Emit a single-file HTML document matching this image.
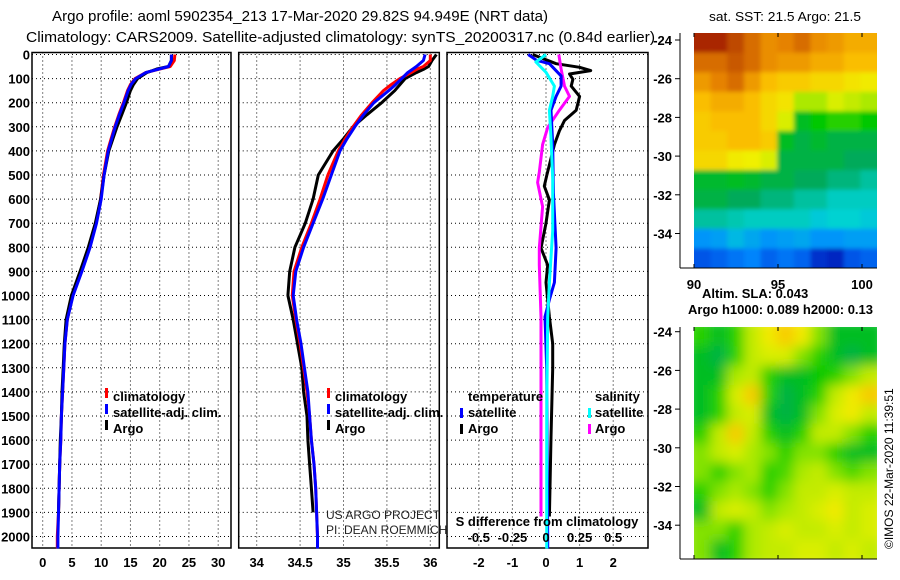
<!DOCTYPE html>
<html><head><meta charset="utf-8"><title>Argo profile</title>
<style>
html,body{margin:0;padding:0;background:#fff;}
svg{display:block;font-family:"Liberation Sans",sans-serif;}
.b{font-weight:bold;font-size:13px;}
</style></head>
<body>
<svg id="chart" width="900" height="580" viewBox="0 0 900 580" xmlns="http://www.w3.org/2000/svg">
<defs>
<filter id="blurS" x="-5%" y="-5%" width="110%" height="110%"><feGaussianBlur stdDeviation="2"/></filter>
<filter id="blurL" x="-5%" y="-5%" width="110%" height="110%"><feGaussianBlur stdDeviation="6"/></filter>
<clipPath id="clipSST"><rect x="694" y="33" width="183" height="235"/></clipPath>
<clipPath id="clipSLA"><rect x="694" y="327" width="183" height="232"/></clipPath>
</defs>
<rect x="0" y="0" width="900" height="580" fill="#fff"/>
<text x="52" y="21" font-size="15" textLength="496" lengthAdjust="spacingAndGlyphs">Argo profile: aoml 5902354_213 17-Mar-2020 29.82S 94.949E (NRT data)</text>
<text x="26" y="42" font-size="15" textLength="629" lengthAdjust="spacingAndGlyphs">Climatology: CARS2009. Satellite-adjusted climatology: synTS_20200317.nc (0.84d earlier)</text>
<text x="709" y="21" font-size="13" textLength="152" lengthAdjust="spacingAndGlyphs">sat. SST: 21.5 Argo: 21.5</text>
<g id="g"></g>
</svg>
<script>
// ---- data ----
const depthTicks = [0,100,200,300,400,500,600,700,800,900,1000,1100,1200,1300,1400,1500,1600,1700,1800,1900,2000];
const tempTicks = [0,5,10,15,20,25,30];
const salTicks = [34,34.5,35,35.5,36];
const diffTicks = [-2,-1,0,1,2];
const sdiffTickLabels = ["-0.5","-0.25","0","0.25","0.5"];
const sdiffTickVals = [-0.5,-0.25,0,0.25,0.5];

const tDepth = [0,25,50,60,75,100,125,150,200,250,300,350,400,500,600,700,800,900,1000,1100,1200,1300,1400,1500,1600,1700,1800,1900];
const tempArgo = [22.0,22.0,21.5,19.5,17.8,16.2,15.5,15.0,14.3,13.5,12.7,12.0,11.3,10.5,9.9,9.0,7.8,6.4,4.9,4.0,3.7,3.5,3.3,3.2,3.0,2.9,2.8,2.7];
const cDepth = [0,25,50,60,75,100,125,150,200,250,300,350,400,500,600,700,800,900,1000,1100,1200,1300,1400,1500,1600,1700,1800,1900,2000,2050];
const tempClim = [22.6,22.5,21.8,20.0,17.6,15.8,15.0,14.5,13.8,13.0,12.3,11.7,11.1,10.4,9.9,9.1,8.0,6.6,5.1,4.2,3.8,3.6,3.4,3.2,3.1,2.9,2.8,2.7,2.5,2.5];
const tempSat = [22.0,22.0,21.5,19.9,17.6,15.9,15.1,14.6,13.9,13.1,12.4,11.8,11.2,10.5,10.0,9.2,8.1,6.7,5.2,4.2,3.8,3.6,3.4,3.2,3.1,2.9,2.8,2.7,2.6,2.6];

const salArgo = [36.07,36.02,35.98,35.93,35.84,35.71,35.65,35.59,35.44,35.27,35.11,35.0,34.88,34.71,34.65,34.56,34.44,34.38,34.36,34.42,34.47,34.52,34.54,34.58,34.59,34.61,34.63,34.65];
const salClim = [36.0,36.0,35.92,35.85,35.78,35.65,35.55,35.46,35.33,35.21,35.11,35.02,34.94,34.82,34.73,34.63,34.52,34.43,34.41,34.45,34.5,34.54,34.58,34.61,34.63,34.66,34.68,34.69,34.7,34.7];
const salSat = [35.94,35.92,35.84,35.8,35.74,35.67,35.6,35.52,35.35,35.23,35.13,35.04,34.96,34.86,34.76,34.65,34.54,34.45,34.42,34.46,34.51,34.55,34.59,34.61,34.63,34.66,34.68,34.69,34.7,34.7];

const dTA = [0,38,53,67,81,103,131,174,231,274,317,374,431,503,546,603,700,803,874,946,1089,1200,1303,1589,1917];
const diffTempArgo = [-0.4,0.3,1.0,1.33,0.7,0.8,0.75,1.0,0.9,0.55,0.4,0.25,0.15,0.02,-0.05,0.1,0.0,-0.15,0.05,0.0,0.1,0.2,0.2,0.15,0.1];
const dTS = [0,24,38,89,131,174,231,374,574,803,946,1017,1089,1300,2000,2050];
const diffTempSat = [-0.53,-0.28,0.1,0.45,0.45,0.3,0.15,0.2,0.22,0.3,0.25,0.1,-0.03,0.02,0.05,0.05];
const dSA = [0,60,131,174,231,303,374,489,531,631,803,874,1089,1500,1917];
const diffSalArgo = [0.38,0.45,0.55,0.7,0.4,0.05,-0.1,-0.2,-0.25,-0.1,-0.2,-0.2,-0.15,-0.15,-0.15];
const dSS = [0,31,74,131,174,231,346,517,731,946,1089,1500,2050];
const diffSalSat = [0,-0.3,0,0.25,0.2,0.1,0.15,0.2,0.2,0.1,0.05,0.02,0.02];

const sstGrid = [
[0.95,0.95,0.9,0.85,0.8,0.82,0.85,0.8,0.78,0.75,0.75],
[0.85,0.85,0.88,0.85,0.8,0.78,0.78,0.75,0.75,0.72,0.72],
[0.78,0.82,0.85,0.78,0.72,0.7,0.7,0.68,0.68,0.66,0.65],
[0.72,0.75,0.75,0.72,0.68,0.66,0.58,0.58,0.62,0.6,0.58],
[0.7,0.72,0.72,0.72,0.68,0.62,0.45,0.48,0.5,0.5,0.48],
[0.7,0.7,0.72,0.72,0.7,0.45,0.42,0.44,0.42,0.42,0.42],
[0.68,0.68,0.65,0.64,0.62,0.42,0.42,0.42,0.42,0.4,0.4],
[0.44,0.44,0.45,0.44,0.42,0.42,0.4,0.4,0.38,0.38,0.36],
[0.42,0.42,0.4,0.4,0.38,0.38,0.36,0.36,0.34,0.34,0.34],
[0.36,0.36,0.35,0.34,0.34,0.34,0.34,0.32,0.33,0.33,0.32],
[0.26,0.27,0.3,0.28,0.26,0.27,0.28,0.26,0.26,0.27,0.27],
[0.18,0.2,0.22,0.24,0.2,0.22,0.2,0.12,0.1,0.18,0.2]];
const slaGrid = [
[0.5,0.45,0.5,0.6,0.65,0.7,0.65,0.55,0.45,0.45,0.45],
[0.45,0.42,0.5,0.6,0.62,0.62,0.55,0.5,0.45,0.42,0.45],
[0.45,0.45,0.58,0.6,0.5,0.45,0.45,0.48,0.5,0.55,0.6],
[0.45,0.5,0.62,0.7,0.5,0.42,0.45,0.5,0.6,0.65,0.7],
[0.45,0.5,0.6,0.62,0.45,0.42,0.45,0.55,0.62,0.65,0.6],
[0.5,0.6,0.7,0.6,0.5,0.45,0.5,0.6,0.6,0.55,0.5],
[0.55,0.6,0.62,0.58,0.55,0.5,0.55,0.55,0.5,0.45,0.45],
[0.55,0.5,0.55,0.58,0.5,0.52,0.58,0.6,0.55,0.52,0.55],
[0.5,0.55,0.58,0.55,0.5,0.55,0.6,0.6,0.62,0.6,0.6],
[0.45,0.6,0.62,0.6,0.55,0.58,0.6,0.62,0.65,0.6,0.62],
[0.55,0.55,0.5,0.58,0.6,0.62,0.6,0.6,0.62,0.6,0.62],
[0.55,0.45,0.5,0.58,0.6,0.6,0.62,0.62,0.6,0.62,0.6]];
const latTicks = [-24,-26,-28,-30,-32,-34];
const lonTicks = [90,95,100];

// ---- helpers ----
const NS="http://www.w3.org/2000/svg";
const G=document.getElementById('g');
function el(t,a,p){const e=document.createElementNS(NS,t);for(const k in a)e.setAttribute(k,a[k]);(p||G).appendChild(e);return e;}
const yD=d=>54.5+d*0.241;
const xT=t=>42.7+t*5.85;
const xS=s=>256.7+(s-34)*86.8;
const xDf=d=>546+d*33.6;
const TOP=52.5,BOT=548;

function panel(name,x0,x1,ticks,xf,labels){
  const g=el('g',{});
  
  
  depthTicks.forEach(d=>{const l=el('line',{x1:x0,x2:x1,y1:yD(d),y2:yD(d),stroke:'#000','stroke-width':1,'stroke-dasharray':'1,3'},g);
    });
  ticks.forEach((t,i)=>{const x=xf(t);const l=el('line',{x1:x,x2:x,y1:TOP,y2:BOT,stroke:'#000','stroke-width':1,'stroke-dasharray':'1,3'},g);
    
    const tx=el('text',{x:x,y:567,'text-anchor':'middle',class:'b'},g);tx.textContent=labels?labels[i]:String(t);
    });
  const r=el('rect',{x:x0,y:TOP,width:x1-x0,height:BOT-TOP,fill:'none',stroke:'#000','stroke-width':1.5},g);
  
  return g;
}
function line(name,xs,ds,xf,color,g){
  const pts=xs.map((v,i)=>xf(v).toFixed(1)+','+yD(ds[i]).toFixed(1)).join(' ');
  const p=el('polyline',{points:pts,fill:'none',stroke:color,'stroke-width':3,'stroke-linejoin':'round'},g);
  
  
}
function txt(name,x,y,s,attrs){const t=el('text',Object.assign({x:x,y:y},attrs||{}));t.textContent=s;
  return t;}
function marker(name,x,y,c){const r=el('rect',{x:x,y:y-9,width:3,height:10,fill:c});
  }

depthTicks.forEach(d=>{txt('y-tick-label',30,yD(d)+5,String(d),{'text-anchor':'end',class:'b'});});

const g1=panel('temperature-panel',32,231,tempTicks,xT);
line('temp-climatology',tempClim,cDepth,xT,'#f00',g1);
line('temp-argo',tempArgo,tDepth,xT,'#000',g1);
line('temp-satellite-adj',tempSat,cDepth,xT,'#00f',g1);
const g2=panel('salinity-panel',238.7,439.3,salTicks,xS);
line('sal-argo',salArgo,tDepth,xS,'#000',g2);
line('sal-climatology',salClim,cDepth,xS,'#f00',g2);
line('sal-satellite-adj',salSat,cDepth,xS,'#00f',g2);
const g3=panel('difference-panel',447,648,diffTicks,xDf);
line('diff-temp-argo',diffTempArgo,dTA,xDf,'#000',g3);
line('diff-sal-argo',diffSalArgo,dSA,xDf,'#f0f',g3);
line('diff-temp-sat',diffTempSat,dTS,xDf,'#00f',g3);
line('diff-sal-sat',diffSalSat,dSS,xDf,'#0ff',g3);
sdiffTickVals.forEach((v,i)=>{txt('s-diff-tick-label',xDf(v*4),542,sdiffTickLabels[i],{'text-anchor':'middle',class:'b'});});
txt('s-diff-axis-title',547,526,'S difference from climatology',{'text-anchor':'middle',class:'b'});

[[105,'climatology','#f00'],[105,'satellite-adj. clim.','#00f'],[105,'Argo','#000']].forEach((e,i)=>{
  marker('legend-marker-temp',e[0],397+i*16,e[2]);txt('legend-entry-temp',e[0]+8,401+i*16,e[1],{class:'b'});});
[[327,'climatology','#f00'],[327,'satellite-adj. clim.','#00f'],[327,'Argo','#000']].forEach((e,i)=>{
  marker('legend-marker-sal',e[0],397+i*16,e[2]);txt('legend-entry-sal',e[0]+8,401+i*16,e[1],{class:'b'});});
txt('legend-title-temperature',468,401,'temperature',{class:'b'});
txt('legend-title-salinity',595,401,'salinity',{class:'b'});
marker('legend-marker-temp-sat',460,417,'#00f');txt('legend-entry-temp-sat',468,417,'satellite',{class:'b'});
marker('legend-marker-temp-argo',460,433,'#000');txt('legend-entry-temp-argo',468,433,'Argo',{class:'b'});
marker('legend-marker-sal-sat',588,417,'#0ff');txt('legend-entry-sal-sat',595,417,'satellite',{class:'b'});
marker('legend-marker-sal-argo',588,433,'#f0f');txt('legend-entry-sal-argo',595,433,'Argo',{class:'b'});
txt('credit-project',326,519,'US ARGO PROJECT',{'font-size':12,fill:'#222'});
txt('credit-pi',326,534,'PI: DEAN ROEMMICH',{'font-size':12,fill:'#222'});

const stops=[[0,[0,0,140]],[0.15,[0,60,220]],[0.25,[0,140,255]],[0.33,[0,210,210]],[0.4,[0,170,90]],[0.48,[0,200,0]],[0.56,[150,230,0]],[0.64,[240,240,0]],[0.72,[250,190,0]],[0.82,[230,130,0]],[0.92,[180,60,0]],[1,[150,0,0]]];
function cmap(v){for(let i=1;i<stops.length;i++){if(v<=stops[i][0]){const a=stops[i-1],b=stops[i];const f=(v-a[0])/(b[0]-a[0]);
  return 'rgb('+a[1].map((c,k)=>Math.round(c+(b[1][k]-c)*f)).join(',')+')';}}return 'rgb(150,0,0)';}
function map(name,grid,x0,x1,y0,y1,latTop,clip,filt){
  const g=el('g',{});
  const outer=el('g',{'clip-path':'url(#'+clip+')'},g);
  const cells=el('g',{filter:'url(#'+filt+')'},outer);
  const rows=grid.length,cols=grid[0].length,cw=(x1-x0)/cols,rh=(y1-y0)/rows;
  grid.forEach((row,r)=>row.forEach((v,c)=>{
    let x=x0+c*cw,y=y0+r*rh,w=cw+0.6,h=rh+0.6;
    if(c===0){x-=8;w+=8;} if(c===cols-1){w+=8;} if(r===0){y-=8;h+=8;} if(r===rows-1){h+=8;}
    const q=el('rect',{x:x.toFixed(2),y:y.toFixed(2),width:w.toFixed(2),height:h.toFixed(2),fill:cmap(v)},cells);
    }));
  el('line',{x1:680,x2:680,y1:y0,y2:y1,stroke:'#000'},g);
  el('line',{x1:680,x2:877,y1:y1,y2:y1,stroke:'#000'},g);
  latTicks.forEach(l=>{const y=latTop+(-24-l)*19.35;el('line',{x1:675,x2:680,y1:y,y2:y,stroke:'#000'},g);
    txt('lat-tick-label',672,y+5,String(l),{'text-anchor':'end',class:'b','font-weight':'normal'});});
  lonTicks.forEach(l=>{const x=694+(l-90)*16.8;el('line',{x1:x,x2:x,y1:y0,y2:y0+4,stroke:'#000'},g);el('line',{x1:x,x2:x,y1:y1,y2:y1-4,stroke:'#000'},g);});
}
map('sst-map',sstGrid,694,877,33,268,40,'clipSST','blurS');
lonTicks.forEach(l=>txt('lon-tick-label',694+(l-90)*16.8,289,String(l),{'text-anchor':'middle',class:'b'}));
txt('sla-label',702,298,'Altim. SLA: 0.043',{class:'b'});
txt('argo-height-label',688,314,'Argo h1000: 0.089 h2000: 0.13',{class:'b'});
map('sla-map',slaGrid,694,877,327,559,331.7,'clipSLA','blurL');
txt('imos-stamp',893,549,'©IMOS 22-Mar-2020 11:39:51',{'font-size':12,transform:'rotate(-90 893 549)'});
</script>
</body></html>
